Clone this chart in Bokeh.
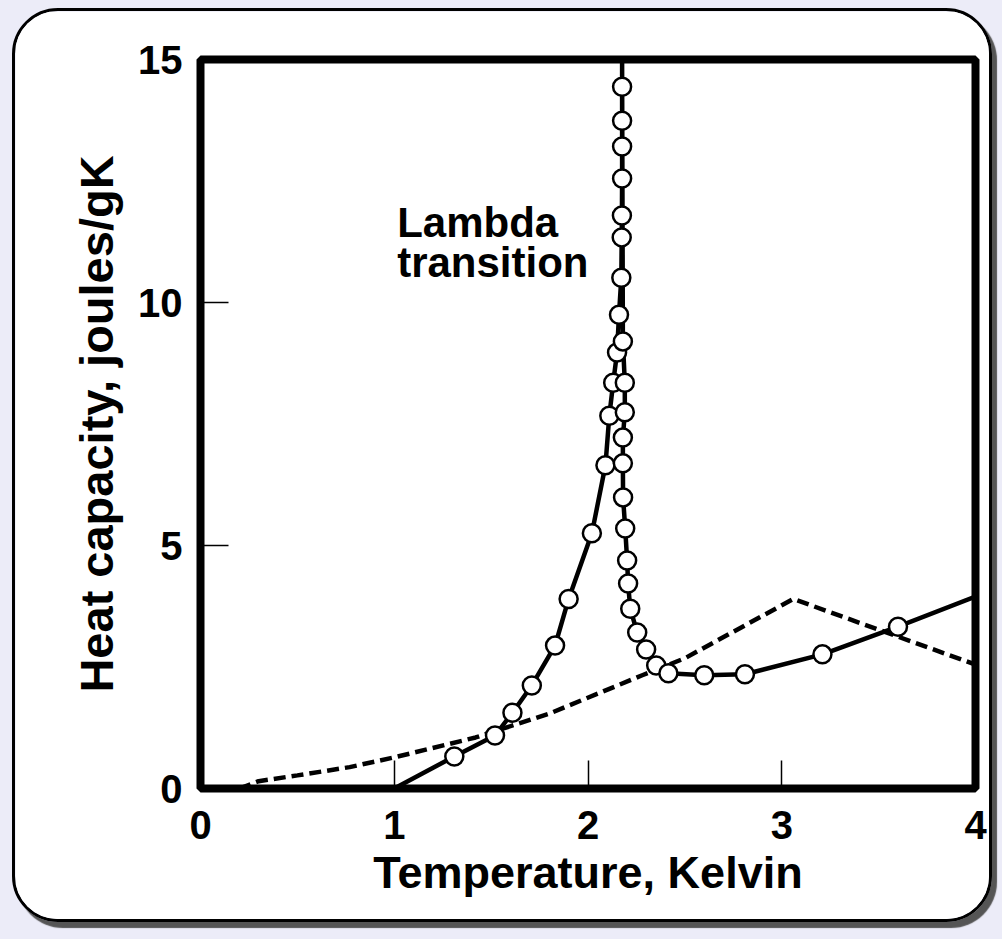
from bokeh.plotting import figure
from bokeh.models import Label, ColumnDataSource
from bokeh.layouts import column
from bokeh.embed import file_html
from bokeh.resources import INLINE

# ---- data ----
# measured heat capacity (circles), rising branch
asc_T = [1.31, 1.52, 1.61, 1.71, 1.83, 1.90, 2.02, 2.09, 2.11, 2.13, 2.15, 2.16,
         2.172, 2.174, 2.175, 2.176, 2.176, 2.176, 2.176]
asc_C = [0.66, 1.09, 1.56, 2.12, 2.94, 3.90, 5.25, 6.65, 7.67, 8.35, 8.97, 9.75,
         10.51, 11.34, 11.79, 12.55, 13.21, 13.74, 14.44]
# measured heat capacity (circles), falling branch
desc_T = [2.18, 2.19, 2.19, 2.18, 2.18, 2.181, 2.192, 2.202, 2.207, 2.218, 2.254,
          2.30, 2.352, 2.415, 2.60, 2.81, 3.21, 3.60]
desc_C = [9.20, 8.35, 7.74, 7.22, 6.69, 5.99, 5.35, 4.69, 4.22, 3.70, 3.21,
          2.86, 2.53, 2.37, 2.33, 2.35, 2.76, 3.33]
# ends of the solid curve
start_T, start_C = [1.0], [0.0]
apex_T, apex_C = [2.176], [15.0]
end_T, end_C = [4.0], [3.95]
# dashed curve
dash_T = [0.2, 0.3, 0.5, 0.77, 1.0, 1.42, 1.8, 2.28, 2.5, 3.06, 4.0]
dash_C = [0.0, 0.15, 0.27, 0.44, 0.64, 1.05, 1.54, 2.33, 2.68, 3.9, 2.55]

x_ticks = [0, 1, 2, 3, 4]
y_ticks = [0, 5, 10, 15]
x_title = "Temperature, Kelvin"
y_title = "Heat capacity, joules/gK"
note_lines = ["Lambda", "transition"]

FONT = "Liberation Sans"

p = figure(width=980, height=914, x_range=(0, 4), y_range=(0, 15),
           output_backend="svg", toolbar_location=None,
           min_border_left=185, min_border_right=20,
           min_border_top=48, min_border_bottom=137,
           background_fill_color="white", border_fill_color="white")
p.margin = (8, 0, 0, 12)
p.styles = {"border": "3.5px solid black", "border-radius": "46px",
            "box-shadow": "5px 6px 1px #555555", "overflow": "hidden"}

p.grid.visible = False
p.outline_line_color = "black"
p.outline_line_width = 8

for ax, ticks in ((p.xaxis, x_ticks), (p.yaxis, y_ticks)):
    ax.ticker = ticks
    ax.axis_line_color = None
    ax.major_tick_in = 28
    ax.major_tick_out = 0
    ax.minor_tick_in = 0
    ax.minor_tick_out = 0
    ax.major_tick_line_color = "black"
    ax.major_tick_line_width = 1.5
    ax.major_label_text_font = FONT
    ax.major_label_text_font_style = "bold"
    ax.major_label_text_font_size = "40px"
    ax.major_label_text_color = "black"
    ax.axis_label_text_font = FONT
    ax.axis_label_text_font_style = "bold"
    ax.axis_label_text_color = "black"

p.xaxis.axis_label = x_title
p.yaxis.axis_label = y_title
p.xaxis.axis_label_text_font_size = "45px"
p.yaxis.axis_label_text_font_size = "47px"
p.xaxis.major_label_standoff = 22
p.yaxis.major_label_standoff = 18
p.xaxis.axis_label_standoff = 5
p.yaxis.axis_label_standoff = 12

# dashed curve
p.line(dash_T, dash_C, line_color="black", line_width=4.5, line_dash="12 6")

# solid curve through the measurements
line_T = start_T + asc_T + apex_T + desc_T + end_T
line_C = start_C + asc_C + apex_C + desc_C + end_C
p.line(line_T, line_C, line_color="black", line_width=4.5, line_join="round")

pts = ColumnDataSource(dict(T=asc_T + desc_T, C=asc_C + desc_C))
p.scatter("T", "C", source=pts, marker="circle", size=18,
          fill_color="white", line_color="black", line_width=2.5)

# annotation
for txt, yv in zip(note_lines, [11.65, 10.82]):
    p.add_layout(Label(x=1.015, y=yv, text=txt, text_font=FONT,
                       text_font_style="bold", text_font_size="42px",
                       text_color="black", text_baseline="alphabetic"))

page = column(p, width=1002, height=939,
              styles={"background-color": "#ececf8", "position": "fixed",
                      "left": "0px", "top": "0px"})

open("out.html", "w").write(file_html(page, INLINE))
